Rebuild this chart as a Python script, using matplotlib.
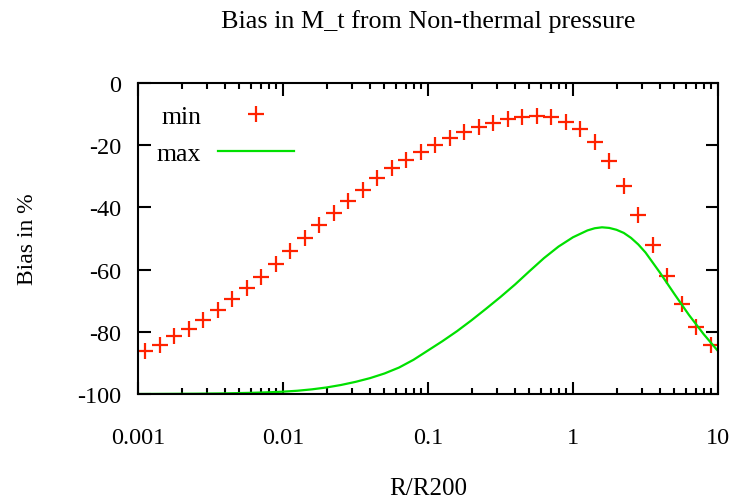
import numpy as np
import matplotlib.pyplot as plt
from matplotlib.ticker import LogLocator, NullLocator

# data
# "min": points at log10(R/R200) = -2.95, -2.85, ... , 0.95
min_logr = [-2.95, -2.85, -2.75, -2.65, -2.55, -2.45, -2.35, -2.25, -2.15, -2.05,
            -1.95, -1.85, -1.75, -1.65, -1.55, -1.45, -1.35, -1.25, -1.15, -1.05,
            -0.95, -0.85, -0.75, -0.65, -0.55, -0.45, -0.35, -0.25, -0.15, -0.05,
            0.05, 0.15, 0.25, 0.35, 0.45, 0.55, 0.65, 0.75, 0.85, 0.95]
min_bias = [-86.1, -84.1, -81.5, -79.1, -76.1, -73.0, -69.5, -66.0, -62.3, -58.2,
            -53.9, -49.9, -45.5, -41.8, -37.8, -34.3, -30.7, -27.4, -24.8, -22.1,
            -19.9, -17.8, -15.9, -14.3, -12.9, -11.6, -10.8, -10.5, -11.0, -12.4,
            -14.8, -19.1, -25.2, -33.0, -42.3, -52.1, -62.2, -71.0, -78.3, -84.2]

# "max": curve read at log10(R/R200) = -3.0 ... 1.0
max_logr = [-3.0, -2.8, -2.6, -2.5, -2.4, -2.3, -2.2, -2.1, -2.0, -1.9, -1.8, -1.7,
            -1.6, -1.5, -1.4, -1.3, -1.2, -1.1, -1.0, -0.9, -0.8, -0.7, -0.6, -0.5,
            -0.4, -0.3, -0.2, -0.1, 0.0, 0.1, 0.15, 0.2, 0.25, 0.3, 0.35, 0.4, 0.45,
            0.5, 0.6, 0.7, 0.8, 0.9, 1.0]
max_bias = [-100.0, -99.95, -99.9, -99.85, -99.8, -99.7, -99.6, -99.45, -99.25, -98.95,
            -98.5, -97.9, -97.1, -96.1, -94.9, -93.4, -91.5, -89.0, -86.0, -83.0,
            -79.8, -76.3, -72.6, -68.8, -64.8, -60.5, -56.3, -52.6, -49.6, -47.4,
            -46.7, -46.4, -46.6, -47.2, -48.2, -49.8, -51.9, -54.5, -61.0, -67.9,
            -74.6, -80.7, -86.2]

xticks = [0.001, 0.01, 0.1, 1, 10]
xticklabels = ["0.001", "0.01", "0.1", "1", "10"]
yticks = [-100, -80, -60, -40, -20, 0]

plt.rcParams['font.family'] = ['Liberation Serif', 'DejaVu Serif']
plt.rcParams['font.size'] = 17.5
plt.rcParams['axes.unicode_minus'] = False

fig = plt.figure(figsize=(7.32, 5.02), dpi=100)
ax = fig.add_axes([138 / 732, 107 / 502, 580 / 732, 311 / 502])

ax.plot(10 ** np.array(min_logr), min_bias, linestyle='none', marker='+',
        color='#ff2200', markersize=11, markeredgewidth=1.6, label='min')
ax.plot(10 ** np.array(max_logr), max_bias, color='#00e000', linewidth=1.6,
        label='max')

ax.set_xscale('log')
ax.set_xlim(0.001, 10)
ax.set_ylim(-100, 0)
ax.set_xticks(xticks)
ax.set_xticklabels(xticklabels)
ax.xaxis.set_minor_locator(LogLocator(base=10, subs=np.arange(2, 10)))
ax.set_yticks(yticks)
ax.yaxis.set_minor_locator(NullLocator())

ax.tick_params(which='both', direction='in', top=True, right=True, width=1.5)
ax.tick_params(which='major', length=9, pad=12)
ax.tick_params(which='minor', length=4.5)
ax.tick_params(axis='x', which='major', pad=24)
for s in ax.spines.values():
    s.set_linewidth(1.5)

ax.set_title("Bias in M_t from Non-thermal pressure", fontsize=18.8, pad=40)
ax.set_xlabel("R/R200", fontsize=18, labelpad=21)
ax.set_ylabel("Bias in %", fontsize=17, labelpad=28)

ax.legend(loc='upper left', frameon=False, markerfirst=False, fontsize=18.5,
          handlelength=2.95, handletextpad=0.65, labelspacing=0.55,
          borderaxespad=0.4, bbox_to_anchor=(-0.003, 0.995))

fig.savefig("out.png", dpi=100)
